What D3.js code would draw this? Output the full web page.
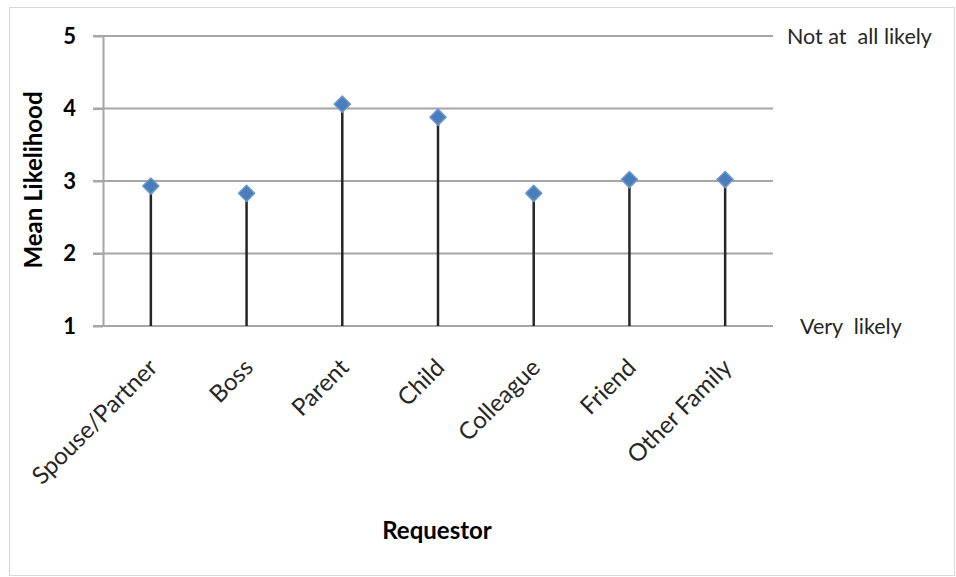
<html>
<head>
  <script src="https://cdnjs.cloudflare.com/ajax/libs/d3/7.8.5/d3.min.js"></script>
  <style>
    body { margin: 0; background: #fff; }
    text { font-family: Lato, "Open Sans", sans-serif; }
  </style>
</head>
<body>
  <div id="chart"></div>
  <script>
    // chart data
    var categories = ["Spouse/Partner", "Boss", "Parent", "Child", "Colleague", "Friend", "Other Family"];
    var meanLikelihood = [2.93, 2.83, 4.06, 3.88, 2.83, 3.02, 3.02];
    var yTicks = [1, 2, 3, 4, 5];
    var rightLabels = [{ v: 5, text: "Not at\u00a0 all likely" }, { v: 1, text: "Very\u00a0 likely" }];

    var svgWidth = 956, svgHeight = 577;
    var svg = d3.select("#chart").append("svg")
      .attr("width", svgWidth)
      .attr("height", svgHeight);

    // outer frame
    svg.append("rect")
      .attr("x", 9.5).attr("y", 7.5)
      .attr("width", 945).attr("height", 568)
      .attr("fill", "#fff")
      .attr("stroke", "#d9d9d9");

    var x = d3.scaleBand().domain(categories).range([103, 773]).padding(0);
    var y = d3.scaleLinear().domain([1, 5]).range([326, 36]);

    // horizontal gridlines
    svg.append("g").selectAll("line")
      .data(yTicks)
      .enter().append("line")
      .attr("x1", 93).attr("x2", 773)
      .attr("y1", function(d) { return y(d); })
      .attr("y2", function(d) { return y(d); })
      .attr("stroke", "#a6a6a6")
      .attr("stroke-width", 2);

    // y axis
    var yAxis = d3.axisLeft(y).tickValues(yTicks).tickFormat(d3.format("d"))
      .tickSize(10).tickSizeOuter(0).tickPadding(17);
    var yg = svg.append("g").attr("transform", "translate(103,0)").call(yAxis);
    yg.select(".domain").attr("stroke", "#a6a6a6").attr("stroke-width", 2);
    yg.selectAll(".tick line").attr("stroke", "#a6a6a6").attr("stroke-width", 2);
    yg.selectAll(".tick text")
      .attr("fill", "#000")
      .style("font-size", "22px")
      .style("font-weight", "bold");

    // stems
    svg.append("g").selectAll("line")
      .data(meanLikelihood)
      .enter().append("line")
      .attr("x1", function(d, i) { return x(categories[i]) + x.bandwidth() / 2; })
      .attr("x2", function(d, i) { return x(categories[i]) + x.bandwidth() / 2; })
      .attr("y1", y(1))
      .attr("y2", function(d) { return y(d); })
      .attr("stroke", "#262626")
      .attr("stroke-width", 2.5);

    // markers
    var diamond = d3.symbol().type(d3.symbolSquare).size(130);
    svg.append("g").selectAll("path")
      .data(meanLikelihood)
      .enter().append("path")
      .attr("d", diamond)
      .attr("transform", function(d, i) {
        return "translate(" + (x(categories[i]) + x.bandwidth() / 2) + "," + y(d) + ") rotate(45)";
      })
      .attr("fill", "#4a7ebb")
      .attr("stroke", "#6d97cc")
      .attr("stroke-width", 1.5)
      .attr("stroke-linejoin", "round");

    // category labels
    svg.append("g").selectAll("text")
      .data(categories)
      .enter().append("text")
      .attr("transform", function(d) {
        return "translate(" + (x(d) + x.bandwidth() / 2 + 8) + ",369) rotate(-45)";
      })
      .attr("text-anchor", "end")
      .attr("fill", "#262626")
      .style("font-size", "24px")
      .text(function(d) { return d; });

    // right side labels
    svg.append("g").selectAll("text")
      .data(rightLabels)
      .enter().append("text")
      .attr("x", function(d) { return d.v === 5 ? 787 : 800; })
      .attr("y", function(d) { return y(d.v); })
      .attr("dy", "0.36em")
      .attr("fill", "#262626")
      .style("font-size", "21.5px")
      .text(function(d) { return d.text; });

    // axis titles
    svg.append("text")
      .attr("transform", "translate(33,180) rotate(-90)")
      .attr("text-anchor", "middle")
      .attr("dy", "0.36em")
      .style("font-size", "24px")
      .style("font-weight", "bold")
      .text("Mean Likelihood");

    svg.append("text")
      .attr("x", 437)
      .attr("y", 530)
      .attr("text-anchor", "middle")
      .attr("dy", "0.36em")
      .style("font-size", "24px")
      .style("font-weight", "bold")
      .text("Requestor");
  </script>
</body>
</html>
